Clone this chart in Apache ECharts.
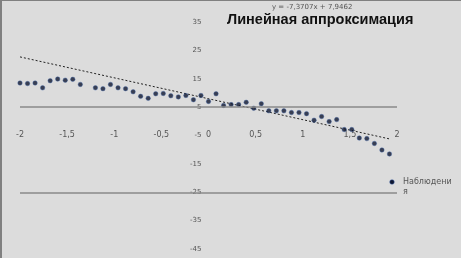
<!DOCTYPE html>
<html>
<head>
<meta charset="utf-8">
<script src="https://cdn.jsdelivr.net/npm/echarts@6/dist/echarts.min.js"></script>
<style>
  html, body { margin: 0; padding: 0; background: #dcdcdc; }
  #chart { width: 461px; height: 258px; box-sizing: border-box; border-top: 1px solid #808080; border-left: 2px solid #808080; }
</style>
</head>
<body>
<div id="chart"></div>
<script>
// observed points
const obsX = [-2, -1.92, -1.84, -1.76, -1.68, -1.6, -1.52, -1.44, -1.36, -1.2, -1.12, -1.04, -0.96, -0.88,
  -0.8, -0.72, -0.64, -0.56, -0.48, -0.4, -0.32, -0.24, -0.16, -0.08, 0, 0.08, 0.16, 0.24, 0.32, 0.4,
  0.48, 0.56, 0.64, 0.72, 0.8, 0.88, 0.96, 1.04, 1.12, 1.2, 1.28, 1.36, 1.44, 1.52, 1.6, 1.68, 1.76, 1.84, 1.92]
const obsY = [13.5, 13.3, 13.5, 11.8, 14.3, 14.9, 14.5, 14.8, 13.0, 11.8, 11.5, 13.0, 11.8, 11.5,
  10.4, 8.8, 8.1, 9.7, 9.8, 9.0, 8.6, 9.1, 7.6, 9.1, 7.0, 9.7, 5.6, 5.9, 5.9, 6.7,
  4.6, 6.2, 3.7, 3.7, 3.7, 3.1, 3.1, 2.7, 0.4, 1.7, -0.1, 0.6, -2.9, -2.9, -5.9, -6.1, -7.8, -10.1, -11.5]

// linear trend line y = -7,3707x + 7,9462 (end points)
const trendX = [-2, 1.92]
const trendY = [22.7, -6.2]

// horizontal reference lines
const refLines = [5, -25]

const chart = echarts.init(document.getElementById('chart'))

const dotStyle = { color: '#0f1630', borderColor: '#3f63a8', borderWidth: 0.5 }

chart.setOption({
  backgroundColor: '#dcdcdc',
  animation: false,
  title: {
    text: 'Линейная аппроксимация',
    left: 220,
    top: 6,
    textStyle: { fontFamily: 'Liberation Sans', fontSize: 14.5, fontWeight: 'bold', color: '#111' },
  },
  graphic: [
    {
      type: 'text',
      left: 270,
      top: 3,
      style: { text: 'y = -7,3707x + 7,9462', fontFamily: 'DejaVu Sans', fontSize: 7, fill: '#555' },
    },
    // legend
    { type: 'circle', shape: { cx: 390, cy: 181, r: 2.3 }, style: { fill: dotStyle.color, stroke: dotStyle.borderColor, lineWidth: 0.5 } },
    {
      type: 'text',
      x: 401,
      y: 176,
      style: { text: 'Наблюдени\nя', fontFamily: 'DejaVu Sans', fontSize: 8, lineHeight: 10, fill: '#555' },
    },
  ],
  grid: { left: 18, right: 64, top: 21, bottom: 9 },
  xAxis: {
    type: 'value',
    min: -2,
    max: 2,
    interval: 0.5,
    offset: -128,
    axisLine: { show: false },
    axisTick: { show: false },
    splitLine: { show: false },
    axisLabel: {
      margin: 10,
      fontFamily: 'DejaVu Sans',
      fontSize: 8,
      color: '#555',
      formatter: (v) => String(v).replace('.', ','),
    },
  },
  yAxis: {
    type: 'value',
    min: -45,
    max: 35,
    interval: 10,
    offset: -189.5,
    axisLine: { show: false },
    axisTick: { show: false },
    splitLine: { show: false },
    axisLabel: { margin: 8, fontFamily: 'DejaVu Sans', fontSize: 7, color: '#555' },
  },
  series: [
    {
      name: 'Наблюдения',
      type: 'scatter',
      symbolSize: 4.5,
      itemStyle: dotStyle,
      data: obsX.map((x, i) => [x, obsY[i]]),
      z: 3,
      markLine: {
        silent: true,
        symbol: 'none',
        label: { show: false },
        lineStyle: { color: '#8a8a8a', width: 1.5, type: 'solid' },
        data: refLines.map((v) => [{ coord: [-2, v] }, { coord: [2, v] }]),
      },
    },
    {
      name: 'trend',
      type: 'line',
      symbol: 'none',
      lineStyle: { color: '#222', width: 1, type: [2, 2] },
      data: trendX.map((x, i) => [x, trendY[i]]),
      z: 2,
    },
  ],
})
</script>
</body>
</html>
